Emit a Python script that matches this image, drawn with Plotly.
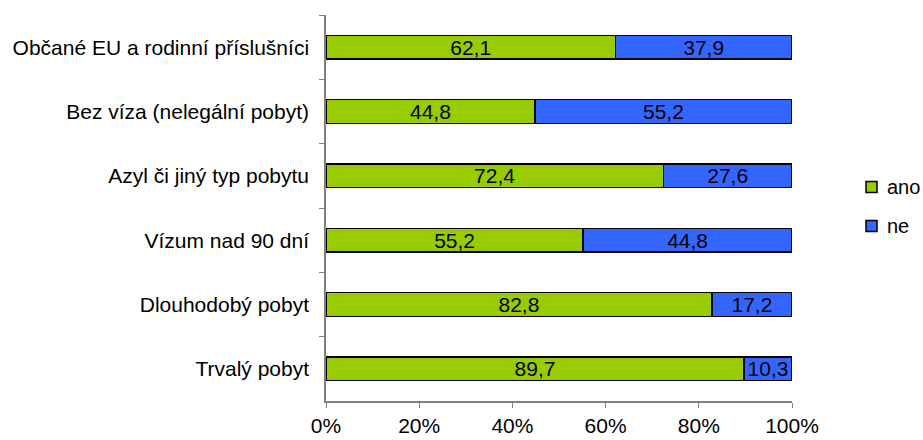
import plotly.graph_objects as go

categories = ["Občané EU a rodinní příslušníci", "Bez víza (nelegální pobyt)",
              "Azyl či jiný typ pobytu", "Vízum nad 90 dní",
              "Dlouhodobý pobyt", "Trvalý pobyt"]
ano = [62.1, 44.8, 72.4, 55.2, 82.8, 89.7]
ne = [37.9, 55.2, 27.6, 44.8, 17.2, 10.3]
series_names = ["ano", "ne"]
series_colors = ["#99CC00", "#3366FF"]
tick_vals = [0, 20, 40, 60, 80, 100]
tick_text = ["0%", "20%", "40%", "60%", "80%", "100%"]

def fmt(v):
    return f"{v:.1f}".replace(".", ",")

font = dict(family="Liberation Sans, Arial, sans-serif", size=21, color="black")
legend_font = dict(family="Liberation Sans, Arial, sans-serif", size=20, color="black")

W, H = 923, 440
ML, MR, MT, MB = 326, 131, 15, 39
PW, PH = W - ML - MR, H - MT - MB

fig = go.Figure()
for name, vals, col in zip(series_names, [ano, ne], series_colors):
    fig.add_trace(go.Bar(y=categories, x=vals, orientation="h", name=name,
                         marker=dict(color=col, line=dict(color="black", width=1.5)),
                         text=[fmt(v) for v in vals], textposition="inside",
                         insidetextanchor="middle", textfont=font, showlegend=False))

# custom legend (pixel positions within figure)
legend_y = [187, 226]
sq_x0, sq_size, txt_x = 866, 11, 885
for name, col, py in zip(series_names, series_colors, legend_y):
    fx0 = (sq_x0 - ML) / PW
    fx1 = (sq_x0 + sq_size - ML) / PW
    fy0 = (MT + PH - (py + sq_size / 2)) / PH
    fy1 = (MT + PH - (py - sq_size / 2)) / PH
    fig.add_shape(type="rect", xref="paper", yref="paper", x0=fx0, x1=fx1, y0=fy0, y1=fy1,
                  fillcolor=col, line=dict(color="black", width=1.5))
    fig.add_annotation(xref="paper", yref="paper", x=(txt_x - ML) / PW,
                       y=(MT + PH - py) / PH, text=name, showarrow=False,
                       xanchor="left", yanchor="middle", font=legend_font)

fig.update_layout(
    width=W, height=H,
    barmode="stack", bargap=0.63,
    margin=dict(l=ML, r=MR, t=MT, b=MB, autoexpand=False),
    plot_bgcolor="white", paper_bgcolor="white",
    font=font,
    uniformtext=dict(mode="show", minsize=20),
    xaxis=dict(range=[0, 100], tickvals=tick_vals, ticktext=tick_text,
               showgrid=False, zeroline=False, showline=True, linecolor="#808080",
               linewidth=1.5, ticks="outside", tickcolor="#808080", ticklen=5,
               tickfont=font),
    yaxis=dict(autorange="reversed", showgrid=False, showline=True,
               linecolor="#808080", linewidth=1.5, ticks="outside",
               tickson="boundaries", tickcolor="#808080", ticklen=5,
               tickfont=font, ticklabelstandoff=11),
)
fig.write_html("out.html", config={"displayModeBar": False},
               post_script="document.body.style.margin='0';document.body.style.overflow='hidden';")
